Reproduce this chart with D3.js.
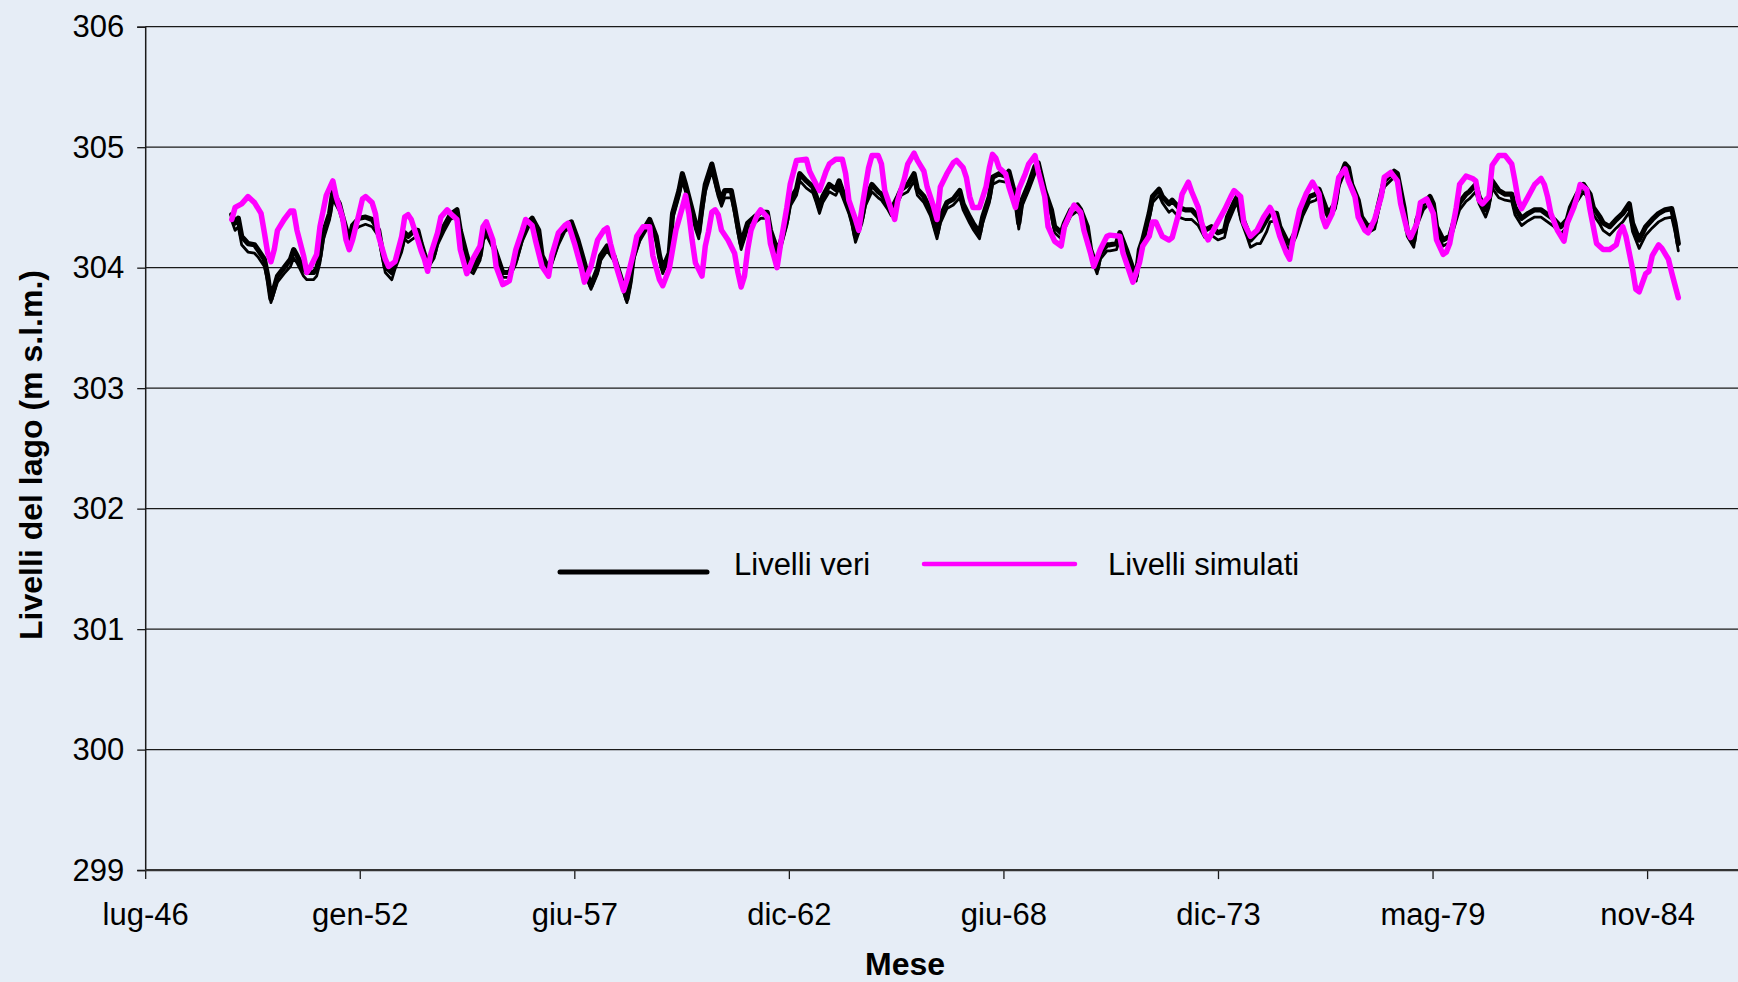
<!DOCTYPE html>
<html>
<head>
<meta charset="utf-8">
<script src="https://cdn.jsdelivr.net/npm/d3@7"></script>
<style>
  html, body { margin: 0; padding: 0; background: #E6EDF6; }
  svg { display: block; }
  text { font-family: "Liberation Sans", Arial, sans-serif; fill: #000; }
</style>
</head>
<body>
<svg id="chart" width="1738" height="982"></svg>
<script>
// Livelli mensili del lago: mesi contati da ottobre 1948 (mese 0)
const primoMese = Date.UTC(1948, 9, 1);

// Asse delle date: parte il 17/07/1946, una tacca ogni 2000 giorni
const origineAsse = Date.UTC(1946, 6, 17);
const giorniTraTacche = 2000;
const etichetteMesi = ["lug-46", "gen-52", "giu-57", "dic-62", "giu-68", "dic-73", "mag-79", "nov-84"];
const tacchePerLivelli = [299, 300, 301, 302, 303, 304, 305, 306];

// Livelli veri (serie principale) [mese, quota m s.l.m.]
const livelliVeri = [
  [0,304.44],[1,304.37],[2,304.41],[3,304.26],[5,304.20],[7,304.19],[8,304.15],[10,304.07],[11,303.93],[12,303.74],
  [14,303.93],[16,304.00],[18,304.07],[19,304.15],[20,304.10],[22,303.99],[23,303.96],[25,303.96],[26,303.99],[27,304.10],
  [28,304.29],[30,304.45],[31,304.63],[33,304.53],[34,304.42],[36,304.23],[37,304.35],[39,304.41],[41,304.42],[43,304.40],
  [45,304.31],[46,304.15],[47,304.01],[49,303.96],[50,304.04],[52,304.18],[53,304.29],[54,304.26],[56,304.31],[57,304.31],
  [58,304.20],[59,304.11],[60,304.04],[62,304.12],[63,304.23],[65,304.34],[67,304.44],[69,304.48],[70,304.31],[72,304.10],
  [73,304.01],[74,303.99],[76,304.10],[77,304.26],[78,304.31],[80,304.20],[82,304.04],[83,303.96],[85,303.96],[87,304.07],
  [89,304.26],[91,304.38],[92,304.41],[94,304.31],[95,304.10],[97,303.99],[98,304.07],[100,304.23],[102,304.34],[104,304.38],
  [106,304.23],[108,304.04],[109,303.93],[110,303.85],[112,303.99],[113,304.10],[115,304.18],[117,304.10],[119,303.93],[121,303.74],
  [122,303.88],[123,304.10],[125,304.26],[128,304.40],[130,304.26],[131,304.10],[132,303.99],[134,304.12],[135,304.45],[137,304.64],
  [138,304.78],[139,304.69],[141,304.48],[142,304.37],[143,304.29],[144,304.50],[145,304.69],[147,304.86],[149,304.64],[150,304.56],
  [151,304.64],[153,304.64],[154,304.50],[155,304.34],[156,304.20],[158,304.37],[160,304.42],[162,304.46],[164,304.46],[165,304.31],
  [167,304.15],[168,304.20],[170,304.40],[171,304.56],[173,304.65],[174,304.78],[176,304.72],[178,304.67],[179,304.59],[180,304.50],
  [181,304.59],[183,304.69],[185,304.65],[186,304.72],[187,304.64],[189,304.50],[190,304.40],[191,304.26],[193,304.42],[194,304.56],
  [196,304.69],[198,304.63],[199,304.61],[201,304.53],[202,304.48],[204,304.59],[205,304.65],[207,304.69],[209,304.78],[210,304.65],
  [212,304.59],[214,304.48],[216,304.29],[217,304.42],[219,304.54],[221,304.57],[223,304.64],[224,304.53],[226,304.42],[227,304.37],
  [229,304.29],[230,304.42],[232,304.59],[233,304.75],[235,304.78],[237,304.76],[238,304.80],[240,304.59],[241,304.37],[242,304.56],
  [244,304.69],[246,304.84],[247,304.87],[249,304.64],[251,304.48],[252,304.34],[254,304.29],[255,304.37],[257,304.48],[259,304.52],
  [260,304.48],[262,304.34],[263,304.15],[265,303.99],[266,304.12],[268,304.19],[269,304.19],[271,304.20],[272,304.29],[274,304.15],
  [276,303.99],[277,303.93],[278,304.15],[279,304.23],[281,304.45],[282,304.59],[284,304.65],[285,304.59],[287,304.53],[288,304.56],
  [290,304.50],[292,304.48],[294,304.48],[296,304.42],[297,304.36],[298,304.31],[300,304.34],[302,304.29],[304,304.31],[305,304.42],
  [307,304.54],[308,304.59],[309,304.45],[311,304.31],[312,304.23],[314,304.29],[315,304.31],[317,304.40],[318,304.45],[320,304.45],
  [321,304.34],[323,304.23],[324,304.20],[326,304.31],[328,304.48],[330,304.59],[332,304.61],[333,304.65],[335,304.50],[336,304.45],
  [338,304.54],[339,304.72],[341,304.86],[342,304.83],[343,304.69],[345,304.56],[346,304.42],[348,304.34],[350,304.37],[351,304.50],
  [353,304.72],[356,304.80],[357,304.78],[359,304.50],[360,304.31],[362,304.22],[363,304.40],[365,304.53],[367,304.59],[368,304.53],
  [369,304.34],[371,304.23],[373,304.26],[375,304.45],[376,304.54],[378,304.61],[379,304.63],[381,304.69],[382,304.59],[384,304.48],
  [385,304.56],[386,304.72],[388,304.64],[390,304.61],[392,304.61],[393,304.50],[395,304.41],[397,304.45],[399,304.48],[401,304.48],
  [403,304.44],[405,304.40],[407,304.34],[409,304.40],[410,304.50],[412,304.61],[414,304.69],[416,304.61],[417,304.50],[419,304.42],
  [420,304.37],[422,304.34],[424,304.40],[426,304.45],[428,304.53],[429,304.37],[431,304.23],[433,304.34],[435,304.40],[437,304.45],
  [439,304.48],[441,304.49],[442,304.37],[443,304.20]
];

// Livelli veri, seconda stazione (linea sottile)
const livelliVeriB = [
  [0,304.39],[1,304.31],[2,304.34],[3,304.19],[5,304.13],[7,304.12],[8,304.09],[10,304.01],[11,303.88],[12,303.71],
  [14,303.88],[16,303.95],[18,304.01],[19,304.08],[20,304.04],[22,303.93],[23,303.90],[25,303.90],[26,303.93],[27,304.04],
  [28,304.23],[30,304.40],[31,304.57],[33,304.47],[34,304.37],[36,304.19],[37,304.30],[39,304.34],[41,304.36],[43,304.34],
  [45,304.26],[46,304.10],[47,303.96],[49,303.90],[50,303.99],[52,304.13],[53,304.24],[54,304.21],[56,304.25],[57,304.25],
  [58,304.15],[59,304.06],[60,303.99],[62,304.08],[63,304.19],[65,304.30],[67,304.40],[69,304.43],[70,304.27],[72,304.06],
  [73,303.97],[74,303.95],[76,304.06],[77,304.22],[78,304.27],[80,304.16],[82,304.00],[83,303.92],[85,303.92],[87,304.03],
  [89,304.22],[91,304.34],[92,304.37],[94,304.27],[95,304.06],[97,303.95],[98,304.03],[100,304.19],[102,304.30],[104,304.34],
  [106,304.19],[108,304.00],[109,303.89],[110,303.82],[112,303.95],[113,304.06],[115,304.14],[117,304.06],[119,303.89],[121,303.71],
  [122,303.84],[123,304.06],[125,304.22],[128,304.36],[130,304.22],[131,304.06],[132,303.95],[134,304.08],[135,304.40],[137,304.59],
  [138,304.72],[139,304.63],[141,304.43],[142,304.32],[143,304.24],[144,304.44],[145,304.63],[147,304.80],[149,304.59],[150,304.51],
  [151,304.58],[153,304.58],[154,304.45],[155,304.29],[156,304.15],[158,304.32],[160,304.37],[162,304.41],[164,304.41],[165,304.26],
  [167,304.10],[168,304.15],[170,304.35],[171,304.51],[173,304.60],[174,304.72],[176,304.66],[178,304.62],[179,304.54],[180,304.45],
  [181,304.54],[183,304.63],[185,304.60],[186,304.66],[187,304.59],[189,304.45],[190,304.35],[191,304.21],[193,304.37],[194,304.51],
  [196,304.63],[198,304.58],[199,304.56],[201,304.48],[202,304.43],[204,304.54],[205,304.60],[207,304.63],[209,304.72],[210,304.60],
  [212,304.54],[214,304.43],[216,304.24],[217,304.37],[219,304.49],[221,304.52],[223,304.58],[224,304.48],[226,304.37],[227,304.32],
  [229,304.24],[230,304.37],[232,304.54],[233,304.69],[235,304.72],[237,304.71],[238,304.74],[240,304.54],[241,304.32],[242,304.51],
  [244,304.64],[246,304.78],[247,304.81],[249,304.59],[251,304.43],[252,304.29],[254,304.24],[255,304.32],[257,304.43],[259,304.47],
  [260,304.43],[262,304.29],[263,304.10],[265,303.95],[266,304.07],[268,304.14],[269,304.14],[271,304.15],[272,304.24],[274,304.10],
  [276,303.95],[277,303.89],[278,304.10],[279,304.18],[281,304.40],[282,304.54],[284,304.60],[285,304.54],[287,304.46],[288,304.48],
  [290,304.42],[292,304.40],[294,304.40],[296,304.35],[297,304.30],[298,304.25],[300,304.27],[302,304.23],[304,304.25],[305,304.36],
  [307,304.49],[308,304.54],[309,304.40],[311,304.25],[312,304.17],[314,304.20],[315,304.20],[317,304.30],[318,304.38],[320,304.39],
  [321,304.29],[323,304.18],[324,304.15],[326,304.26],[328,304.43],[330,304.54],[332,304.56],[333,304.60],[335,304.45],[336,304.40],
  [338,304.49],[339,304.67],[341,304.80],[342,304.78],[343,304.64],[345,304.51],[346,304.37],[348,304.29],[350,304.32],[351,304.45],
  [353,304.67],[356,304.75],[357,304.73],[359,304.45],[360,304.26],[362,304.17],[363,304.35],[365,304.48],[367,304.54],[368,304.48],
  [369,304.29],[371,304.18],[373,304.21],[375,304.39],[376,304.48],[378,304.55],[379,304.57],[381,304.63],[382,304.53],[384,304.42],
  [385,304.50],[386,304.66],[388,304.58],[390,304.56],[392,304.55],[393,304.44],[395,304.35],[397,304.39],[399,304.42],[401,304.42],
  [403,304.38],[405,304.34],[407,304.28],[409,304.34],[410,304.44],[412,304.55],[414,304.63],[416,304.55],[417,304.44],[419,304.36],
  [420,304.31],[422,304.27],[424,304.33],[426,304.38],[428,304.46],[429,304.30],[431,304.16],[433,304.27],[435,304.33],[437,304.38],
  [439,304.41],[441,304.42],[442,304.30],[443,304.14]
];

// Livelli simulati [mese, quota m s.l.m.]
const livelliSimulati = [
  [0,304.40],[1,304.50],[3,304.53],[5,304.59],[7,304.54],[9,304.45],[10,304.29],[11,304.12],[12,304.05],[13,304.15],
  [14,304.31],[16,304.40],[18,304.47],[19,304.47],[20,304.31],[22,304.10],[23,303.96],[24,304.00],[26,304.11],[27,304.34],
  [29,304.60],[31,304.72],[32,304.59],[34,304.41],[35,304.23],[36,304.15],[37,304.23],[39,304.45],[40,304.57],[41,304.59],
  [43,304.54],[44,304.45],[45,304.26],[47,304.07],[48,304.01],[50,304.05],[52,304.26],[53,304.42],[54,304.44],[55,304.40],
  [57,304.23],[58,304.14],[59,304.07],[60,303.97],[61,304.12],[63,304.29],[64,304.42],[66,304.48],[67,304.45],[69,304.40],
  [70,304.15],[72,303.95],[74,304.08],[76,304.18],[77,304.34],[78,304.38],[80,304.23],[81,304.01],[83,303.86],[85,303.89],
  [87,304.15],[89,304.31],[90,304.40],[92,304.35],[93,304.23],[95,304.01],[97,303.93],[98,304.10],[100,304.29],[102,304.35],
  [103,304.37],[105,304.20],[107,304.00],[108,303.88],[110,304.01],[112,304.23],[114,304.31],[115,304.33],[116,304.20],[118,303.99],
  [120,303.81],[121,303.90],[123,304.12],[124,304.26],[126,304.34],[128,304.34],[129,304.10],[131,303.90],[132,303.85],[134,303.99],
  [136,304.31],[138,304.50],[139,304.60],[140,304.45],[141,304.23],[142,304.04],[144,303.93],[145,304.18],[146,304.30],[147,304.46],
  [148,304.48],[149,304.44],[150,304.31],[152,304.23],[154,304.12],[155,303.96],[156,303.84],[157,303.93],[158,304.15],[159,304.31],
  [161,304.44],[162,304.48],[164,304.42],[165,304.20],[167,304.00],[168,304.18],[170,304.50],[171,304.69],[173,304.89],[176,304.90],
  [177,304.80],[179,304.69],[180,304.64],[182,304.80],[183,304.86],[185,304.90],[187,304.90],[188,304.78],[189,304.56],[191,304.40],
  [192,304.31],[193,304.50],[195,304.83],[196,304.93],[198,304.93],[199,304.86],[200,304.64],[202,304.48],[203,304.40],[204,304.56],
  [206,304.74],[207,304.86],[209,304.95],[210,304.89],[212,304.80],[213,304.67],[215,304.50],[216,304.40],[217,304.67],[219,304.78],
  [221,304.87],[222,304.89],[224,304.83],[225,304.75],[226,304.59],[227,304.50],[229,304.50],[231,304.67],[232,304.83],[233,304.94],
  [234,304.91],[235,304.83],[237,304.78],[238,304.67],[240,304.50],[241,304.65],[243,304.78],[244,304.86],[246,304.93],[247,304.80],
  [249,304.59],[250,304.34],[252,304.22],[254,304.18],[255,304.34],[257,304.46],[258,304.52],[260,304.46],[261,304.31],[263,304.12],
  [264,304.01],[266,304.15],[268,304.26],[269,304.27],[272,304.26],[273,304.12],[275,303.96],[276,303.88],[278,304.04],[279,304.18],
  [281,304.26],[282,304.38],[283,304.38],[285,304.26],[287,304.23],[288,304.25],[290,304.45],[291,304.61],[293,304.71],[294,304.63],
  [296,304.50],[297,304.38],[298,304.28],[299,304.23],[301,304.33],[304,304.48],[306,304.59],[307,304.64],[309,304.59],[310,304.37],
  [312,304.26],[314,304.31],[316,304.42],[318,304.50],[319,304.45],[321,304.26],[323,304.12],[324,304.07],[325,304.23],[327,304.48],
  [329,304.61],[331,304.71],[333,304.61],[334,304.42],[335,304.34],[337,304.45],[338,304.59],[339,304.75],[341,304.82],[342,304.72],
  [344,304.59],[345,304.42],[347,304.31],[348,304.29],[350,304.40],[352,304.59],[353,304.75],[355,304.79],[357,304.72],[358,304.53],
  [360,304.31],[361,304.25],[363,304.37],[364,304.54],[366,304.57],[368,304.45],[369,304.23],[371,304.11],[372,304.13],[373,304.20],
  [375,304.50],[376,304.69],[378,304.76],[380,304.74],[381,304.72],[382,304.56],[383,304.53],[385,304.59],[386,304.85],[388,304.93],
  [390,304.93],[392,304.86],[393,304.72],[394,304.56],[395,304.49],[397,304.59],[399,304.69],[401,304.74],[402,304.69],[403,304.59],
  [404,304.45],[406,304.31],[408,304.22],[409,304.37],[411,304.50],[412,304.59],[413,304.69],[415,304.65],[416,304.48],[418,304.20],
  [420,304.15],[422,304.15],[424,304.19],[425,304.29],[426,304.34],[427,304.26],[429,303.99],[430,303.82],[431,303.80],[433,303.95],
  [434,303.97],[435,304.10],[437,304.19],[438,304.16],[440,304.07],[441,303.96],[443,303.75]
];

const W = 1738, H = 982;
const margin = { left: 145.2, top: 26.7, bottom: 870.1 };
const svg = d3.select("#chart");

// Sfondo
svg.append("rect").attr("width", W).attr("height", H).attr("fill", "#E6EDF6");

const fineAsse = d3.utcDay.offset(origineAsse, giorniTraTacche * (etichetteMesi.length - 1));
const x = d3.scaleUtc()
  .domain([origineAsse, fineAsse])
  .range([margin.left, 1647.1]);
const y = d3.scaleLinear().domain([299, 306]).range([margin.bottom, margin.top]);

// Griglia orizzontale
svg.append("g")
  .selectAll("line")
  .data(tacchePerLivelli.filter(v => v > 299))
  .join("line")
  .attr("x1", margin.left).attr("x2", W)
  .attr("y1", d => y(d)).attr("y2", d => y(d))
  .attr("stroke", "#1a1a1a").attr("stroke-width", 1.3);

// Asse Y
const assey = svg.append("g")
  .attr("transform", `translate(${margin.left},0)`)
  .call(d3.axisLeft(y).tickValues(tacchePerLivelli).tickFormat(d3.format("d")).tickSize(8).tickPadding(13));
assey.select(".domain").attr("stroke", "#1a1a1a").attr("stroke-width", 1.5);
assey.selectAll(".tick line").attr("stroke", "#1a1a1a").attr("stroke-width", 1.3);
assey.selectAll(".tick text").attr("font-size", 31).attr("font-family", "Liberation Sans, Arial, sans-serif");

// Asse X
const tacche = etichetteMesi.map((_, i) => d3.utcDay.offset(origineAsse, giorniTraTacche * i));
const assex = svg.append("g")
  .attr("transform", `translate(0,${margin.bottom})`)
  .call(d3.axisBottom(x).tickValues(tacche).tickFormat((d, i) => etichetteMesi[i]).tickSize(9).tickPadding(24));
assex.select(".domain").remove();
assex.append("line").attr("x1", margin.left).attr("x2", W).attr("stroke", "#333").attr("stroke-width", 2.2);
assex.selectAll(".tick line").attr("stroke", "#1a1a1a").attr("stroke-width", 1.3);
assex.selectAll(".tick text").attr("font-size", 31).attr("font-family", "Liberation Sans, Arial, sans-serif");

// Serie
const dataMese = m => d3.utcMonth.offset(new Date(primoMese), m);
const linea = d3.line().x(d => x(dataMese(d[0]))).y(d => y(d[1]));

const serie = svg.append("g").attr("fill", "none").attr("stroke-linejoin", "round").attr("stroke-linecap", "round");
serie.append("path").datum(livelliVeriB).attr("d", linea).attr("stroke", "#000").attr("stroke-width", 2.8);
serie.append("path").datum(livelliVeri).attr("d", linea).attr("stroke", "#000").attr("stroke-width", 5.2);
serie.append("path").datum(livelliSimulati).attr("d", linea).attr("stroke", "#FF00FF").attr("stroke-width", 5.5);

// Legenda
const legenda = svg.append("g");
legenda.append("line").attr("x1", 560).attr("x2", 707).attr("y1", 572).attr("y2", 572)
  .attr("stroke", "#000").attr("stroke-width", 5).attr("stroke-linecap", "round");
legenda.append("text").attr("x", 734).attr("y", 575).attr("font-size", 31).text("Livelli veri");
legenda.append("line").attr("x1", 924).attr("x2", 1075).attr("y1", 564).attr("y2", 564)
  .attr("stroke", "#FF00FF").attr("stroke-width", 4.5).attr("stroke-linecap", "round");
legenda.append("text").attr("x", 1108).attr("y", 575).attr("font-size", 31).text("Livelli simulati");

// Titoli degli assi
svg.append("text").attr("x", 905).attr("y", 975).attr("text-anchor", "middle")
  .attr("font-size", 32).attr("font-weight", "bold").text("Mese");
svg.append("text").attr("transform", "translate(42,455) rotate(-90)").attr("text-anchor", "middle")
  .attr("font-size", 32).attr("font-weight", "bold").text("Livelli del lago (m s.l.m.)");
</script>
</body>
</html>
